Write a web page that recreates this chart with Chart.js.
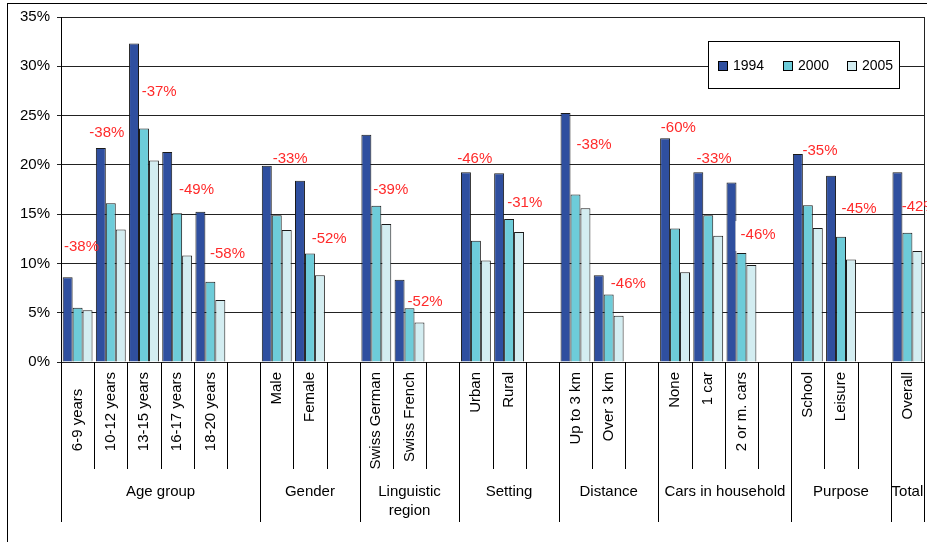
<!DOCTYPE html>
<html>
<head>
<meta charset="utf-8">
<script src="https://cdn.jsdelivr.net/npm/chart.js@4/dist/chart.umd.min.js"></script>
<style>
  html, body { margin: 0; padding: 0; background: #fff; }
  #wrap { width: 927px; height: 542px; }
</style>
</head>
<body>
<div id="wrap"><canvas id="chart" width="927" height="542"></canvas></div>
<script>
// --- Data (share of pupils, %), blank slots separate the groups ---
const CATEGORIES = [
    '6-9 years    ', '10-12 years', '13-15 years', '16-17 years', '18-20 years', '',
    'Male', 'Female', '',
    'Swiss German', 'Swiss French', '',
    'Urban', 'Rural', '',
    'Up to 3 km', 'Over 3 km', '',
    'None', '1 car', '2 or m. cars', '',
    'School', 'Leisure', '',
    'Overall'
];
const GROUP_NAMES = ['Age group', 'Gender', ['Linguistic', 'region'], 'Setting', 'Distance', 'Cars in household', 'Purpose', 'Total'];
const GROUP_SIZES = [6, 3, 3, 3, 3, 4, 3, 1];
const SERIES = ['1994', '2000', '2005'];

const V1994 = [8.6, 21.7, 32.3, 21.3, 15.25, null, 19.9, 18.4, null, 23.05, 8.35, null, 19.25, 19.15, null, 25.25, 8.8, null, 22.7, 19.25, 18.2, null, 21.1, 18.9, null, 19.25];
const V2000 = [5.5, 16.1, 23.7, 15.1, 8.15, null, 14.9, 11.0, null, 15.85, 5.45, null, 12.3, 14.5, null, 17.0, 6.85, null, 13.55, 14.9, 11.05, null, 15.9, 12.7, null, 13.1];
const V2005 = [5.25, 13.45, 20.45, 10.8, 6.3, null, 13.4, 8.8, null, 14.0, 4.0, null, 10.3, 13.2, null, 15.6, 4.7, null, 9.1, 12.8, 9.85, null, 13.6, 10.4, null, 11.25];

// change 1994 -> 2005 labels
const CHANGE_LABELS = ['-38%', '-38%', '-37%', '-49%', '-58%', '', '-33%', '-52%', '', '-39%', '-52%', '', '-46%', '-31%', '', '-38%', '-46%', '', '-60%', '-33%', '-46%', '', '-35%', '-45%', '', '-42%'];

const Y_TICKS = [0, 5, 10, 15, 20, 25, 30, 35];

// --- label placement (layout only): height in % units, x shift in px from slot centre ---
const LABEL_AT = [11.67, 23.23, 27.39, 17.45, 10.96, null, 20.6, 12.48, null, 17.45, 6.09, null, 20.6, 16.13, null, 22.01, 7.91, null, 23.74, 20.6, 12.88, null, 21.4, 15.52, null, 15.72];
const LABEL_DX = [-13.6, -21.5, -2.3, 1.8, -0.4, 0, -4.1, 1.7, 0, -3.1, -1.9, 0, -18.7, -1.9, 0, 1.1, 2.2, 0, -14.2, -11.7, -0.9, 0, -5.3, 0.5, 0, -5.7];
const BOXED_LABEL = 20; // this one sits on a white text box in the original

const COLORS = ['#2f4f9f', '#6dccd9', '#d3edf1'];
const FONT = '"Liberation Sans", Arial, sans-serif';

const decorations = {
    id: 'decorations',
    beforeDraw(chart) {
        const ctx = chart.ctx;
        ctx.save();
        ctx.strokeStyle = '#000';
        ctx.lineWidth = 1;
        ctx.strokeRect(7.5, 3.5, 2000, 2000);
        ctx.restore();
    },
    afterDraw(chart) {
        const ctx = chart.ctx;
        const area = chart.chartArea;
        const xs = chart.scales.x;
        const ys = chart.scales.y;
        const slot = (area.right - area.left) / CATEGORIES.length;
        ctx.save();

        // right border of plot
        ctx.strokeStyle = '#222';
        ctx.lineWidth = 1;
        ctx.beginPath();
        ctx.moveTo(Math.round(area.right) + 0.5, area.top);
        ctx.lineTo(Math.round(area.right) + 0.5, area.bottom);
        ctx.stroke();

        // category axis: separators and rotated labels
        ctx.strokeStyle = '#000';
        const groupEdges = new Set([0]);
        let acc = 0;
        GROUP_SIZES.forEach(n => { acc += n; groupEdges.add(acc); });
        for (let i = 0; i <= CATEGORIES.length; i++) {
            const x = Math.round(area.left + i * slot) + 0.5;
            ctx.beginPath();
            ctx.moveTo(x, area.bottom);
            ctx.lineTo(x, groupEdges.has(i) ? area.bottom + 160 : area.bottom + 107);
            ctx.stroke();
        }
        ctx.fillStyle = '#000';
        ctx.font = '15px ' + FONT;
        ctx.textAlign = 'right';
        ctx.textBaseline = 'middle';
        CATEGORIES.forEach((c, i) => {
            if (!c) return;
            const cx = xs.getPixelForValue(i);
            ctx.save();
            ctx.translate(cx, area.bottom + 10);
            ctx.rotate(-Math.PI / 2);
            ctx.fillText(c, 0, 0);
            ctx.restore();
        });

        // group labels
        ctx.textAlign = 'center';
        let start = 0;
        GROUP_NAMES.forEach((g, gi) => {
            const n = GROUP_SIZES[gi];
            const cx = area.left + (start + n / 2) * slot;
            const lines = Array.isArray(g) ? g : [g];
            lines.forEach((ln, li) => ctx.fillText(ln, cx, area.bottom + 130 + li * 19));
            start += n;
        });

        // red change labels
        ctx.font = '15px ' + FONT;
        ctx.textAlign = 'left';
        CHANGE_LABELS.forEach((t, i) => {
            if (!t) return;
            const x = xs.getPixelForValue(i) + LABEL_DX[i];
            const y = ys.getPixelForValue(LABEL_AT[i]);
            if (i === BOXED_LABEL) {
                ctx.fillStyle = '#fff';
                ctx.fillRect(x - 5, y - 14, 44, 30);
            }
            ctx.fillStyle = '#ff2a2a';
            ctx.fillText(t, x, y);
        });

        // legend box
        const lx = 708, ly = 41, lw = 191, lh = 47;
        ctx.fillStyle = '#fff';
        ctx.fillRect(lx, ly, lw, lh);
        ctx.strokeStyle = '#000';
        ctx.strokeRect(lx + 0.5, ly + 0.5, lw, lh);
        ctx.font = '14px ' + FONT;
        ctx.textBaseline = 'middle';
        const itemX = [718, 783, 847];
        SERIES.forEach((s, i) => {
            const bx = itemX[i], by = ly + 20;
            ctx.fillStyle = COLORS[i];
            ctx.fillRect(bx, by, 10, 10);
            ctx.strokeStyle = '#000';
            ctx.strokeRect(bx + 0.5, by + 0.5, 9, 9);
            ctx.fillStyle = '#000';
            ctx.fillText(s, bx + 15, ly + 25);
        });
        ctx.restore();
    }
};

new Chart(document.getElementById('chart'), {
    type: 'bar',
    data: {
        labels: CATEGORIES,
        datasets: [V1994, V2000, V2005].map((d, i) => ({
            label: SERIES[i],
            data: d,
            backgroundColor: COLORS[i],
            borderColor: '#1a1a1a',
            borderWidth: 1,
            borderSkipped: 'bottom',
            categoryPercentage: 0.9,
            barPercentage: 1.0
        }))
    },
    options: {
        responsive: false,
        animation: false,
        devicePixelRatio: 1,
        layout: { padding: { left: 0, top: 17, right: 3, bottom: 0 } },
        plugins: {
            legend: { display: false },
            tooltip: { enabled: false }
        },
        scales: {
            x: {
                grid: { display: false },
                border: { display: false },
                ticks: { display: false },
                afterFit: s => { s.height = 180; }
            },
            y: {
                min: 0,
                max: 35,
                afterFit: s => { s.width = 61; },
                afterBuildTicks: s => { s.ticks = Y_TICKS.map(v => ({ value: v })); },
                ticks: {
                    padding: 7,
                    color: '#000',
                    font: { family: FONT, size: 15 },
                    callback: v => v + '%'
                },
                grid: { color: '#222', tickLength: 4 },
                border: { color: '#000' }
            }
        }
    },
    plugins: [decorations]
});
</script>
</body>
</html>
